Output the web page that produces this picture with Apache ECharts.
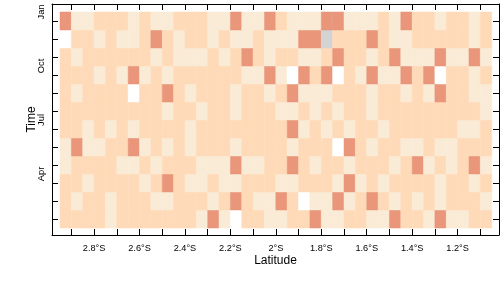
<!DOCTYPE html>
<html>
<head>
<meta charset="utf-8">
<script src="https://cdn.jsdelivr.net/npm/echarts@6/dist/echarts.min.js"></script>
<style>
html,body{margin:0;padding:0;background:#fff;}
#chart{width:504px;height:288px;}
</style>
</head>
<body>
<div id="chart"></div>
<script>
// Latitude cell centres (negative = south), 0.05° wide cells
const latitudes = [-2.925, -2.875, -2.825, -2.775, -2.725, -2.675, -2.625, -2.575, -2.525, -2.475,
  -2.425, -2.375, -2.325, -2.275, -2.225, -2.175, -2.125, -2.075, -2.025, -1.975,
  -1.925, -1.875, -1.825, -1.775, -1.725, -1.675, -1.625, -1.575, -1.525, -1.475,
  -1.425, -1.375, -1.325, -1.275, -1.225, -1.175, -1.125, -1.075];
// Months (rows, bottom to top); each row holds one class letter per latitude cell
const months = ['Jan','Feb','Mar','Apr','May','Jun','Jul','Aug','Sep','Oct','Nov','Dec'];
const monthCenters = [0.5, 1.5, 2.5, 3.5, 4.5, 5.5, 6.5, 7.5, 8.5, 9.5, 10.5, 11.5];
// class codes: W = white, C = cream, P = peach, S = salmon, G = grey (missing)
const classRows = [
  "PPPPCPPPPPPPCSCWPPCCPPSCCPPCCSPPCSCCPP", // Jan
  "PCPPCPPPCCPPPCPSPCCSPWCCSCPSPCPCPCPPPC", // Feb
  "PPCPPPPCPSPCCPCCPPPCCPPPCSCPCPPPPCPPCP", // Mar
  "CPPPPCCPCPPPCCCSCCPPSPCPPCPPPCPSCPCPSC", // Apr
  "CSCCPPSCPCPCPPPCPPPPCPPPWSPCPPCCPCCPPP", // May
  "PPCPCPCPPPPCPPPPPPPPSCPCPCPPCPPPPPPCCP", // Jun
  "PPPPPPPPPCPPCPPCPPPCCPCPCPPCPPPPPPPPPC", // Jul
  "PCPPPPWPPSPCPPPCPPCPSCCCPPPCPPCPCSPPCC", // Aug
  "PPPCPCSCPCPPPPPPCCSCWSPSWPCSCCSPSWPPCP", // Sep
  "PCPPPPPPCPCCCPCPSPCPPCCPSPPCPSCCCSCCSC", // Oct
  "WPPCPCCPSPCPPCPCCPCCCSSGPPPSPCCPPPPPCP", // Nov
  "SCCPPPCPCCPPPCCSCCSPCCCSSCCCPCSPPCPPCP"  // Dec
];
const classColors = { W: '#FFFFFF', C: '#FAEBD7', P: '#FFDAB9', S: '#E9967A', G: '#D3D3D3' };
// Axis ticks / labels
const latTickValues = [-2.9, -2.8, -2.7, -2.6, -2.5, -2.4, -2.3, -2.2, -2.1, -2.0,
  -1.9, -1.8, -1.7, -1.6, -1.5, -1.4, -1.3, -1.2, -1.1];
const latLabelValues = [-2.8, -2.6, -2.4, -2.2, -2.0, -1.8, -1.6, -1.4, -1.2];
const timeLabelValues = [3, 6, 9, 12];
const timeLabelTexts = ['Apr', 'Jul', 'Oct', 'Jan'];

const data = [];
classRows.forEach((row, mi) => {
  for (let i = 0; i < latitudes.length; i++) {
    data.push([latitudes[i], monthCenters[mi], row[i]]);
  }
});

const FONT = '"Liberation Sans", Arial, Helvetica, sans-serif';
const X_MIN = -2.9852, X_MAX = -1.0178, Y_MIN = -0.389, Y_MAX = 12.444;
const CELL_W = 0.05, CELL_H = 1;

const lineStyle = { color: '#000', width: 1 };
const tick = (vals) => ({ show: true, inside: true, length: 6, lineStyle: lineStyle, customValues: vals });

const chart = echarts.init(document.getElementById('chart'), null, { renderer: 'canvas' });
chart.setOption({
  animation: false,
  backgroundColor: '#fff',
  grid: { left: 52, right: 5, top: 4, bottom: 53, containLabel: false },
  xAxis: [
    {
      type: 'value', position: 'bottom', min: X_MIN, max: X_MAX,
      name: 'Latitude', nameLocation: 'middle', nameGap: 20, nameMoveOverlap: false,
      nameTextStyle: { fontFamily: FONT, fontSize: 12, color: '#000' },
      axisLine: { show: true, onZero: false, lineStyle: lineStyle },
      axisTick: tick(latTickValues),
      axisLabel: {
        show: true, margin: 9, customValues: latLabelValues,
        fontFamily: FONT, fontSize: 9.2, color: '#000',
        formatter: v => (+Math.abs(v).toFixed(1)) + '°S'
      },
      splitLine: { show: false }
    },
    {
      type: 'value', position: 'top', min: X_MIN, max: X_MAX,
      axisLine: { show: true, onZero: false, lineStyle: lineStyle },
      axisTick: tick(latTickValues),
      axisLabel: { show: false },
      splitLine: { show: false }
    }
  ],
  yAxis: [
    {
      type: 'value', position: 'left', min: Y_MIN, max: Y_MAX,
      name: 'Time', nameLocation: 'middle', nameGap: 14, nameRotate: 90, nameMoveOverlap: false,
      nameTextStyle: { fontFamily: FONT, fontSize: 12, color: '#000' },
      axisLine: { show: true, onZero: false, lineStyle: lineStyle },
      axisTick: tick(monthCenters),
      axisLabel: {
        show: true, rotate: 90, margin: 6, customValues: timeLabelValues,
        fontFamily: FONT, fontSize: 9.3, color: '#000',
        formatter: v => timeLabelTexts[timeLabelValues.indexOf(Math.round(v))] || ''
      },
      splitLine: { show: false }
    },
    {
      type: 'value', position: 'right', min: Y_MIN, max: Y_MAX,
      axisLine: { show: true, onZero: false, lineStyle: lineStyle },
      axisTick: tick(monthCenters),
      axisLabel: { show: false },
      splitLine: { show: false }
    }
  ],
  series: [{
    type: 'custom',
    xAxisIndex: 0, yAxisIndex: 0,
    clip: true,
    renderItem: (params, api) => {
      const x = api.value(0), y = api.value(1);
      const code = data[params.dataIndex][2];
      const p0 = api.coord([x - CELL_W / 2, y + CELL_H / 2]);
      const p1 = api.coord([x + CELL_W / 2, y - CELL_H / 2]);
      return {
        type: 'rect',
        shape: { x: p0[0], y: p0[1], width: p1[0] - p0[0], height: p1[1] - p0[1] },
        style: { fill: classColors[code], stroke: classColors[code], lineWidth: 0.5 }
      };
    },
    encode: { x: 0, y: 1 },
    data: data.map(d => [d[0], d[1]])
  }]
});
</script>
</body>
</html>
